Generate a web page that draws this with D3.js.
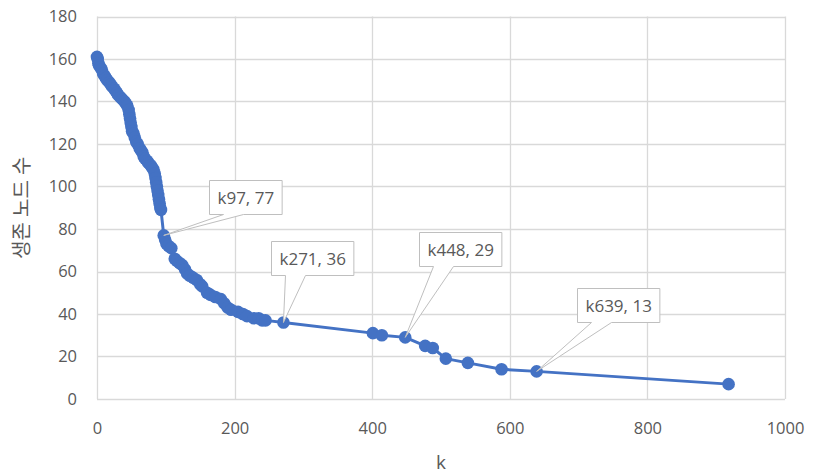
<!DOCTYPE html>
<html>
<head>
<meta charset="utf-8">
<script src="https://cdn.jsdelivr.net/npm/d3@7"></script>
<style>
  body { margin: 0; background: #fff; }
  svg text { font-family: "Open Sans", "Noto Sans CJK KR", sans-serif; fill: #595959; }
</style>
</head>
<body>
<svg id="chart" width="818" height="475"></svg>
<script>
// data
var kValues = [0, 1, 2, 3, 5, 7, 9, 11, 13, 15, 18, 20, 22, 25, 27, 29, 31, 34, 37, 40,
  42, 44, 46, 47, 48, 49, 50, 51, 53, 55, 57, 59, 62, 64, 66, 68, 70, 73, 75, 78,
  80, 82, 84, 85, 86, 87, 88, 89, 90, 91, 92, 93, 97, 99, 101, 104, 108, 113, 116, 120,
  124, 128, 131, 135, 140, 145, 150, 153, 160, 165, 172, 180, 185, 190, 195, 205, 212, 218, 228, 235,
  240, 245, 271, 401, 414, 448, 477, 488, 507, 539, 588, 639, 918];
var nodeCounts = [161, 160, 158, 157, 156, 155, 153, 152, 151, 150, 149, 148, 147, 146, 145, 144, 143, 142, 141, 140,
  139, 138, 136, 134, 132, 130, 128, 126, 125, 123, 121, 120, 118, 117, 116, 114, 113, 112, 111, 110,
  109, 108, 106, 104, 102, 100, 98, 96, 94, 92, 90, 89, 77, 75, 73, 72, 71, 66, 65, 64,
  63, 61, 59, 58, 57, 56, 54, 53, 50, 49, 48, 47, 45, 43, 42, 41, 40, 39, 38, 38,
  37, 37, 36, 31, 30, 29, 25, 24, 19, 17, 14, 13, 7];
var labelledK = [97, 271, 448, 639];
var xTicks = [0, 200, 400, 600, 800, 1000];
var yTicks = [0, 20, 40, 60, 80, 100, 120, 140, 160, 180];
var xTitle = "k";
var yTitle = "생존 노드 수";

var points = kValues.map(function(k, i) { return {k: k, v: nodeCounts[i]}; });

var svg = d3.select("#chart");
var colorLine = "#4472C4";
var colorGrid = "#d9d9d9";

var x = d3.scaleLinear().domain([0, 1000]).range([97, 785]);
var y = d3.scaleLinear().domain([0, 180]).range([399, 16.5]);

// gridlines
svg.append("g").selectAll("line.h").data(yTicks).enter().append("line")
  .attr("x1", x(0)).attr("x2", x(1000))
  .attr("y1", function(d) { return Math.round(y(d)) + 0.5; })
  .attr("y2", function(d) { return Math.round(y(d)) + 0.5; })
  .attr("stroke", colorGrid).attr("stroke-width", 1.3);
svg.append("g").selectAll("line.v").data(xTicks).enter().append("line")
  .attr("y1", y(0)).attr("y2", y(180))
  .attr("x1", function(d) { return Math.round(x(d)) + 0.5; })
  .attr("x2", function(d) { return Math.round(x(d)) + 0.5; })
  .attr("stroke", colorGrid).attr("stroke-width", 1.3);

// axes (labels only, Excel style)
var xAxis = svg.append("g").attr("transform", "translate(0," + y(0) + ")")
  .call(d3.axisBottom(x).tickValues(xTicks).tickFormat(d3.format("d")).tickSize(0).tickPadding(23));
var yAxis = svg.append("g").attr("transform", "translate(" + x(0) + ",0)")
  .call(d3.axisLeft(y).tickValues(yTicks).tickSize(0).tickPadding(20));
[xAxis, yAxis].forEach(function(a) {
  a.select(".domain").remove();
  a.selectAll("text").attr("font-size", 16.5).attr("fill", "#595959")
    .attr("font-family", "'Open Sans', sans-serif");
});

// axis titles
svg.append("text").attr("x", (x(0) + x(1000)) / 2).attr("y", 469)
  .attr("text-anchor", "middle").attr("font-size", 19).text(xTitle);
svg.append("text").attr("transform", "translate(29," + (y(0) + y(180)) / 2 + ") rotate(-90)")
  .attr("text-anchor", "middle").attr("font-size", 20).text(yTitle);

// series
var line = d3.line().x(function(d) { return x(d.k); }).y(function(d) { return y(d.v); });
svg.append("path").datum(points).attr("d", line)
  .attr("fill", "none").attr("stroke", colorLine).attr("stroke-width", 3)
  .attr("stroke-linejoin", "round");
svg.append("g").selectAll("circle").data(points).enter().append("circle")
  .attr("cx", function(d) { return x(d.k); })
  .attr("cy", function(d) { return y(d.v); })
  .attr("r", 6.3).attr("fill", colorLine);

// data label callouts: box offset from the point
var calloutOffsets = {97: [45, -55], 271: [-12, -82], 448: [14, -105], 639: [40, -83]};
var boxH = 34;
labelledK.forEach(function(k) {
  var p = points.find(function(d) { return d.k === k; });
  var px = x(p.k), py = y(p.v);
  var off = calloutOffsets[k];
  var g = svg.append("g");
  var t = g.append("text").attr("font-size", 17)
    .text("k" + p.k + ", " + p.v);
  var w = t.node().getComputedTextLength() + 16;
  var bx = Math.round(px + off[0]) + 0.5, by = Math.round(py + off[1]) + 0.5;
  var b0 = bx + 14, b1 = bx + 34;
  var shape = [[bx, by], [bx + w, by], [bx + w, by + boxH], [b1, by + boxH],
    [px, py], [b0, by + boxH], [bx, by + boxH]];
  g.insert("path", "text")
    .attr("d", "M" + shape.join("L") + "Z")
    .attr("fill", "#fff").attr("stroke", "#bfbfbf").attr("stroke-width", 1);
  t.attr("x", bx + w / 2).attr("y", by + boxH / 2 + 6).attr("text-anchor", "middle");
});
</script>
</body>
</html>
